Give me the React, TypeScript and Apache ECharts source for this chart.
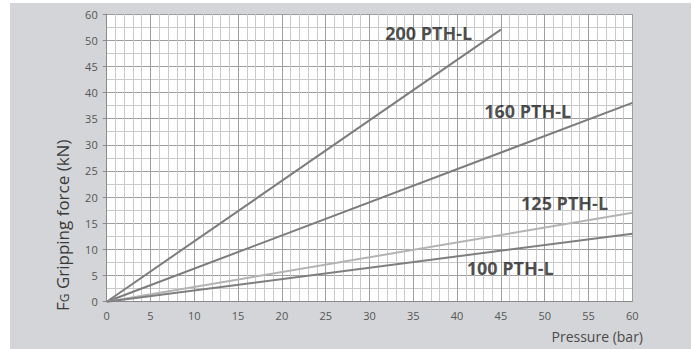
import React, { useEffect, useRef } from "react";
import * as echarts from "echarts";

// Pressure (bar) values and gripping forces (axis units)
const pressure200 = [0, 45];
const force200 = [0, 52];
const pressure160 = [0, 60];
const force160 = [0, 38];
const pressure125 = [0, 60];
const force125 = [0, 17];
const pressure100 = [0, 60];
const force100 = [0, 13];

const seriesNames = ["200 PTH-L", "160 PTH-L", "125 PTH-L", "100 PTH-L"];
const labelX = [31.8, 43.1, 47.3, 41.1];
const labelY = [51.3, 36.4, 18.8, 6.4];

const xTicks = [0, 5, 10, 15, 20, 25, 30, 35, 40, 45, 50, 55, 60];
const yTickLabels = ["0", "5", "10", "15", "20", "25", "30", "35", "40", "45", "50", "60"];

const FONT = "'Open Sans', 'Noto Sans', sans-serif";
const PANEL = "#d4d5d8";

export default function App() {
  const ref = useRef<HTMLDivElement>(null);
  useEffect(() => {
    if (!ref.current) return;
    const chart = echarts.init(ref.current, null, { renderer: "svg" });
    const pairs = (xs: number[], ys: number[]) => xs.map((x, i) => [x, ys[i]]);
    const colors = ["#7c7c7c", "#7c7c7c", "#b3b3b3", "#7f7f7f"];
    const lineData = [
      pairs(pressure200, force200),
      pairs(pressure160, force160),
      pairs(pressure125, force125),
      pairs(pressure100, force100),
    ];
    chart.setOption({
      animation: false,
      backgroundColor: "#ffffff",
      textStyle: { fontFamily: FONT },
      graphic: [
        {
          type: "rect",
          silent: true,
          z: 0,
          shape: { x: 10, y: 3, width: 681, height: 346 },
          style: { fill: PANEL },
        },
        {
          type: "rect",
          silent: true,
          z: 0,
          shape: { x: 106.7, y: 14, width: 525.6, height: 287.7 },
          style: { fill: "#ffffff" },
        },
        {
          type: "text",
          x: 62,
          y: 311,
          rotation: Math.PI / 2,
          style: {
            text: "{f|F}{g|G}{t| Gripping force (kN)}",
            textVerticalAlign: "middle",
            textAlign: "left",
            rich: {
              f: { fontSize: 17, fill: "#3a3a3a", fontFamily: FONT },
              g: { fontSize: 12, fill: "#3a3a3a", fontFamily: FONT, padding: [4, 0, 0, 0] },
              t: { fontSize: 17, fill: "#3a3a3a", fontFamily: FONT },
            },
          },
        },
        {
          type: "text",
          x: 643,
          y: 336,
          style: {
            text: "Pressure (bar)",
            fontSize: 14,
            fill: "#4a4a4a",
            fontFamily: FONT,
            textAlign: "right",
            textVerticalAlign: "middle",
          },
        },
      ],
      grid: {
        left: 106.7,
        right: 61.7,
        top: 14,
        bottom: 47.3,
        containLabel: false,
      },
      xAxis: {
        type: "value",
        min: 0,
        max: 60,
        interval: 5,
        axisLine: { show: true, lineStyle: { color: "#8a8a8a" } },
        axisTick: { show: false },
        axisLabel: {
          color: "#555555",
          fontSize: 11,
          fontFamily: FONT,
          margin: 8,
          formatter: (v: number) => (xTicks.includes(v) ? String(v) : ""),
        },
        splitLine: { show: true, lineStyle: { color: "#9e9e9e", width: 1 } },
        minorTick: { show: false, splitNumber: 5 },
        minorSplitLine: { show: true, lineStyle: { color: "#c9c9c9", width: 1 } },
      },
      yAxis: {
        type: "value",
        min: 0,
        max: 55,
        interval: 5,
        axisLine: { show: true, lineStyle: { color: "#8a8a8a" } },
        axisTick: { show: true, length: 4, lineStyle: { color: "#8a8a8a" } },
        axisLabel: {
          color: "#555555",
          fontSize: 11,
          fontFamily: FONT,
          margin: 9,
          formatter: (v: number) => yTickLabels[Math.round(v / 5)] ?? "",
        },
        splitLine: { show: true, lineStyle: { color: "#9e9e9e", width: 1 } },
        minorTick: { show: false, splitNumber: 2 },
        minorSplitLine: { show: true, lineStyle: { color: "#c9c9c9", width: 1 } },
      },
      series: [
        ...lineData.map((d, i) => ({
          name: seriesNames[i],
          type: "line",
          data: d,
          symbol: "none",
          lineStyle: { color: colors[i], width: 2 },
          z: 5,
        })),
        {
          type: "scatter",
          symbolSize: 0,
          data: seriesNames.map((n, i) => [labelX[i], labelY[i], n]),
          label: {
            show: true,
            position: "inside",
            align: "left",
            verticalAlign: "middle",
            formatter: (p: any) => p.data[2],
            fontSize: 18,
            fontWeight: "bold",
            color: "#1e1e1e",
            fontFamily: FONT,
          },
          z: 6,
        },
      ],
    });
    return () => chart.dispose();
  }, []);
  return (
    <div
      ref={ref}
      style={{ position: "fixed", left: 0, top: 0, width: 694, height: 349 }}
    />
  );
}
